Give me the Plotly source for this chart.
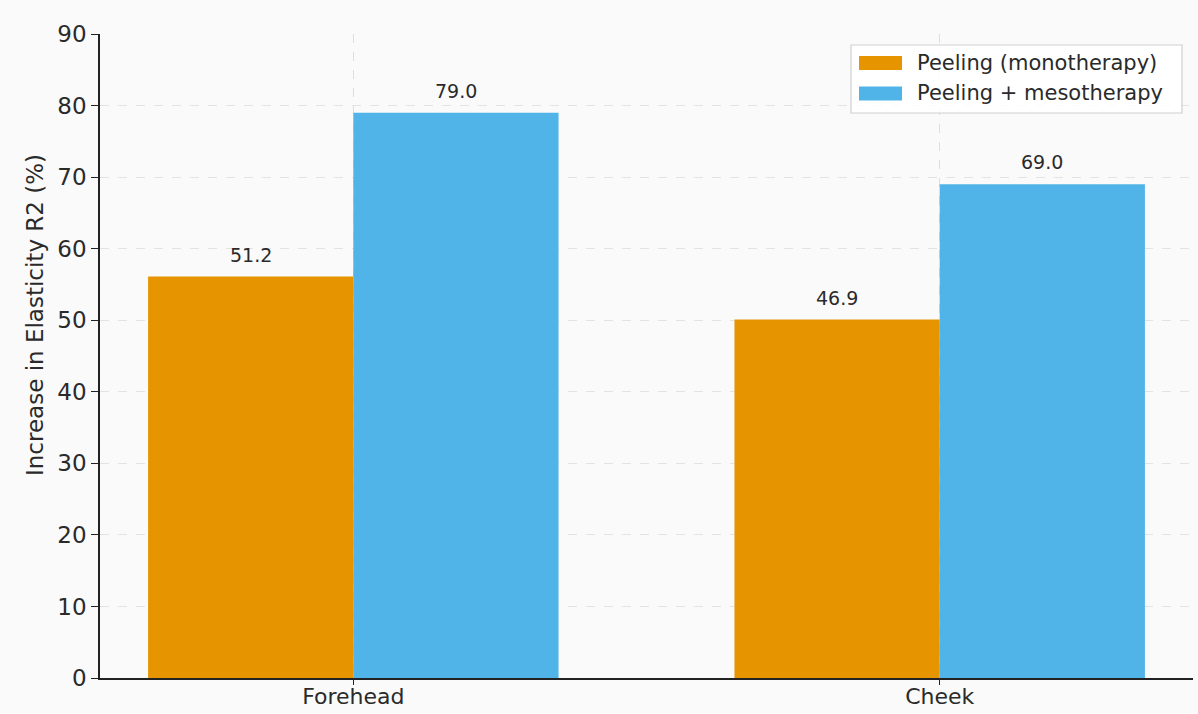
import plotly.graph_objects as go

# ---- data ----
categories = ["Forehead", "Cheek"]
series_names = ["Peeling (monotherapy)", "Peeling + mesotherapy"]
mono_values = [56.1, 50.1]          # bar heights as drawn
meso_values = [79.0, 69.0]
mono_labels = ["51.2", "46.9"]      # printed labels
meso_labels = ["79.0", "69.0"]
y_ticks = [0, 10, 20, 30, 40, 50, 60, 70, 80, 90]
y_title = "Increase in Elasticity R2 (%)"

ORANGE = "#E69500"
BLUE = "#50B4E8"
TXT = "#2a2a2a"
FONT = "DejaVu Sans"
BG = "#fafafa"

W, H = 1198, 714
ML, MR, MT, MB = 100, 5, 34, 36
PW, PH = W - ML - MR, H - MT - MB

BAR_W = 0.35

def px(x):
    return (x - ML) / PW

def py(y):
    return 1 - (y - MT) / PH

fig = go.Figure()
fig.add_trace(go.Bar(name=series_names[0], x=categories, y=mono_values,
                     marker=dict(color=ORANGE, line=dict(width=0)), showlegend=False))
fig.add_trace(go.Bar(name=series_names[1], x=categories, y=meso_values,
                     marker=dict(color=BLUE, line=dict(width=0)), showlegend=False))

# value labels above bars
for i, cat in enumerate(categories):
    for vals, labs, off in ((mono_values, mono_labels, -BAR_W / 2), (meso_values, meso_labels, BAR_W / 2)):
        fig.add_annotation(x=i + off, y=vals[i], text=labs[i], showarrow=False,
                           xref="x", yref="y", yanchor="bottom", yshift=9,
                           font=dict(family=FONT, size=19, color=TXT))

# y-axis title (placed like the reference, slightly above centre)
fig.add_annotation(x=px(35), y=py(315), xref="paper", yref="paper", text=y_title,
                   textangle=-90, showarrow=False, xanchor="center", yanchor="middle",
                   font=dict(family=FONT, size=23, color=TXT))

# manual legend (matplotlib style)
fig.add_shape(type="rect", xref="paper", yref="paper",
              x0=px(851), x1=px(1182), y0=py(113), y1=py(45),
              line=dict(color="#d0d0d0", width=1.2), fillcolor="rgba(255,255,255,0.85)", layer="above")
for name, col, yc in ((series_names[0], ORANGE, 63), (series_names[1], BLUE, 93.5)):
    fig.add_shape(type="rect", xref="paper", yref="paper",
                  x0=px(859), x1=px(902), y0=py(yc + 7), y1=py(yc - 7),
                  line=dict(width=0), fillcolor=col, layer="above")
    fig.add_annotation(x=px(915), y=py(yc), xref="paper", yref="paper", text=name,
                       showarrow=False, xanchor="left", yanchor="middle",
                       font=dict(family=FONT, size=21, color=TXT))

fig.update_layout(
    width=W, height=H,
    margin=dict(l=ML, r=MR, t=MT, b=MB, pad=0, autoexpand=False),
    paper_bgcolor=BG, plot_bgcolor=BG,
    barmode="group", bargap=0.3, bargroupgap=0.0,
    font=dict(family=FONT, color=TXT),
    showlegend=False,
)
fig.update_xaxes(
    type="category", range=[-0.432, 1.432], automargin=False,
    showline=True, linecolor="#222222", linewidth=1.6,
    ticks="outside", ticklen=5, tickwidth=1.3, tickcolor="#222222",
    ticklabelstandoff=-7,
    tickfont=dict(family=FONT, size=22, color=TXT),
    showgrid=True, gridcolor="#dddddd", griddash="dash", gridwidth=1,
    zeroline=False, mirror=False,
)
fig.update_yaxes(
    range=[0, 90], tickvals=y_ticks, automargin=False,
    showline=True, linecolor="#222222", linewidth=1.6,
    ticks="outside", ticklen=7, tickwidth=1.3, tickcolor="#222222",
    tickfont=dict(family=FONT, size=23, color=TXT),
    showgrid=True, gridcolor="#e3e3e3", griddash="dash", gridwidth=1,
    zeroline=False, mirror=False,
)

fig.write_html("out.html")
